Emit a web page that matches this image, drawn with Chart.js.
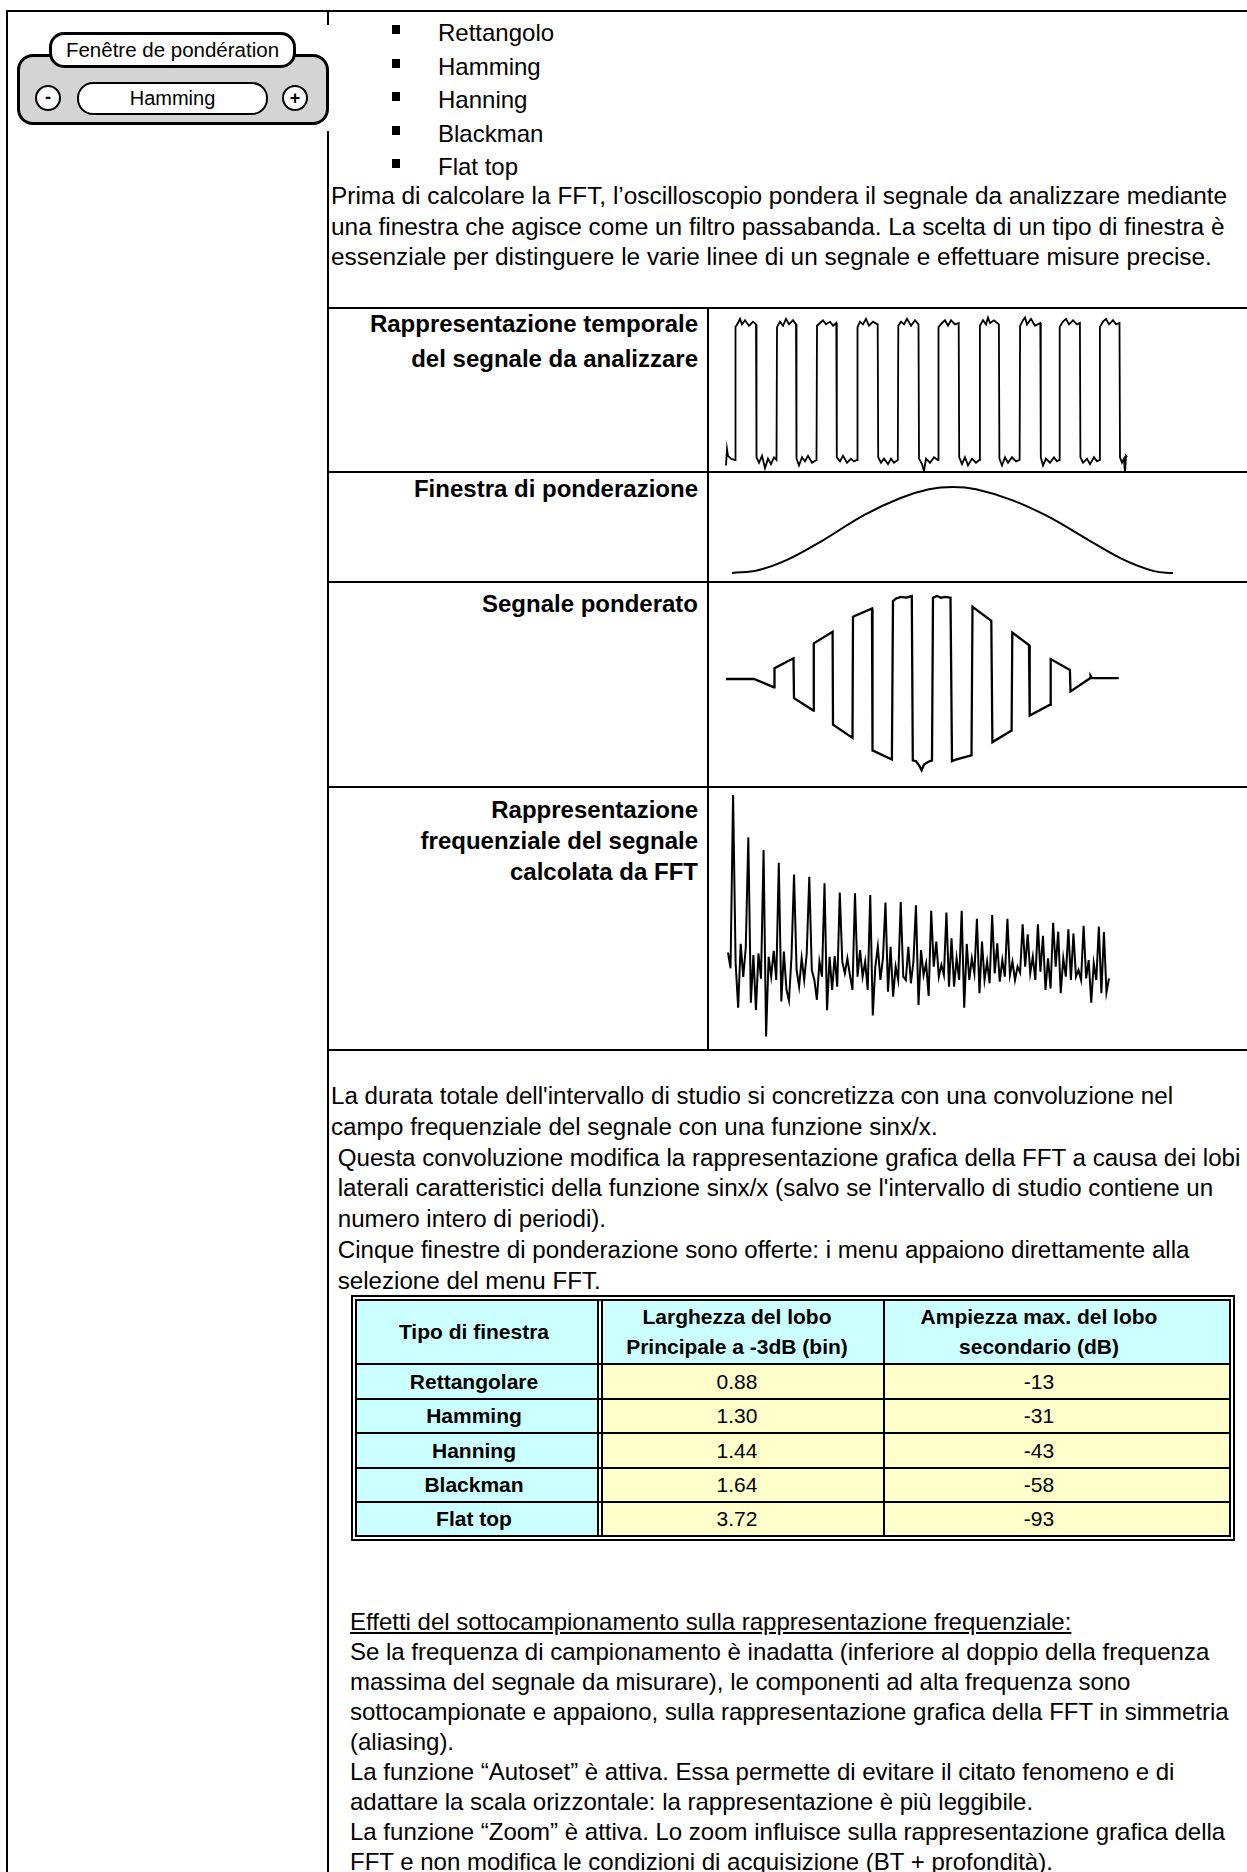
<!DOCTYPE html>
<html><head><meta charset="utf-8">
<script src="https://cdn.jsdelivr.net/npm/chart.js@4.4.1/dist/chart.umd.min.js"></script>
<style>
html,body{margin:0;padding:0;background:#fff;}
body{width:1247px;height:1872px;position:relative;overflow:hidden;font-family:"Liberation Sans",Arial,sans-serif;color:#000;}
.t{position:absolute;white-space:pre;font-size:24px;line-height:30px;}
.b{font-weight:bold;}
</style></head><body>
<script>
// ---------------- DATA ----------------
const bulletItems = ["Rettangolo","Hamming","Hanning","Blackman","Flat top"];
const introLines = [
 "Prima di calcolare la FFT, l\u2019oscilloscopio pondera il segnale da analizzare mediante",
 "una finestra che agisce come un filtro passabanda. La scelta di un tipo di finestra è",
 "essenziale per distinguere le varie linee di un segnale e effettuare misure precise."];
const rowLabels = [
 ["Rappresentazione temporale","del segnale da analizzare"],
 ["Finestra di ponderazione"],
 ["Segnale ponderato"],
 ["Rappresentazione","frequenziale del segnale","calcolata da FFT"]];
const middleLines = [
 "La durata totale dell'intervallo di studio si concretizza con una convoluzione nel",
 "campo frequenziale del segnale con una funzione sinx/x.",
 " Questa convoluzione modifica la rappresentazione grafica della FFT a causa dei lobi",
 " laterali caratteristici della funzione sinx/x (salvo se l'intervallo di studio contiene un",
 " numero intero di periodi).",
 " Cinque finestre di ponderazione sono offerte: i menu appaiono direttamente alla",
 " selezione del menu FFT."];
const bottomLines = [
 "Effetti del sottocampionamento sulla rappresentazione frequenziale:",
 "Se la frequenza di campionamento è inadatta (inferiore al doppio della frequenza",
 "massima del segnale da misurare), le componenti ad alta frequenza sono",
 "sottocampionate e appaiono, sulla rappresentazione grafica della FFT in simmetria",
 "(aliasing).",
 "La funzione \u201cAutoset\u201d è attiva. Essa permette di evitare il citato fenomeno e di",
 "adattare la scala orizzontale: la rappresentazione è più leggibile.",
 "La funzione \u201cZoom\u201d è attiva. Lo zoom influisce sulla rappresentazione grafica della",
 "FFT e non modifica le condizioni di acquisizione (BT + profondità)."];

const tableHeaders = [["Tipo di finestra"],["Larghezza del lobo","Principale a -3dB (bin)"],["Ampiezza max. del lobo","secondario (dB)"]];
const windowTypes = ["Rettangolare","Hamming","Hanning","Blackman","Flat top"];
const mainLobeWidthBins = ["0.88","1.30","1.44","1.64","3.72"];
const sideLobeMaxDb = [-13,-31,-43,-58,-93];

// time signal (square wave), normalised 0..1
const squareT = [0,1,2,5,
 9,9.5,12,14,16,19,23,27,30,
 30.5,33,36,39,42,45,48,50.5,
 51,54,57,60,63,67,70,
 70.5,73,76,79,82,86,90.5,
 91,94,97,100,104,107,110.3,
 110.8,114,117,121,125,128,131,
 131.5,134,137,140,143,147,151.7,
 152.2,155,158,162,165,168,171.8,
 172.3,175,178,181,185,189,192.5,
 193,196,198,200,204,208,212,
 212.5,216,219,222,225,229,232.7,
 233.2,236,239,242,246,250,253.4,
 253.9,257,260,262,264,268,272.9,
 273.4,276,279,282,286,290,293.6,
 294.1,297,299,301,305,309,314.3,
 314.8,317,320,324,328,331,333.2,
 333.7,337,340,343,347,351,353.9,
 354.4,357,361,364,368,371,373.4,
 373.9,377,380,383,387,390,393.5,
 394,396,398,399,400,401];
const squareV = [-0.04,0.08,0.03,0.01,
 0.0,0.97,1.0,1.03,0.99,1.02,0.98,1.01,0.99,
 0.02,-0.02,0.03,-0.06,0.01,-0.03,0.02,0.0,
 0.97,1.01,0.98,1.03,0.99,1.02,0.99,
 0.01,-0.04,0.02,-0.01,0.03,-0.02,0.0,
 0.98,1.0,1.02,0.99,1.01,0.98,1.0,
 0.02,-0.01,0.03,-0.02,0.01,-0.01,0.0,
 0.97,1.01,0.99,1.03,0.98,1.01,0.99,
 0.02,-0.02,0.01,-0.03,0.01,-0.02,0.0,
 0.98,1.01,0.99,1.03,0.98,1.02,0.99,
 0.01,-0.03,-0.08,0.01,-0.02,0.02,0.0,
 0.97,1.0,1.02,0.98,1.02,0.99,1.0,
 0.02,-0.03,0.02,-0.04,0.01,-0.02,0.0,
 0.98,1.02,0.99,1.04,1.0,1.02,0.99,
 0.01,-0.04,0.02,-0.02,0.02,-0.01,0.0,
 0.98,1.02,1.04,0.99,1.03,0.98,1.0,
 0.02,-0.04,0.01,-0.02,0.02,-0.01,0.0,
 0.97,1.01,1.03,0.99,1.02,0.99,1.0,
 0.02,-0.02,0.01,-0.03,0.02,-0.01,0.0,
 0.97,1.01,1.03,0.99,1.02,0.99,1.0,
 0.02,-0.02,0.01,-0.1,0.03,0.02];

// Hamming weighting window
const windowT = [6,32,61,97,138,174,203,227,250,286,321,363,398,428,447];
const windowW = [0.08,0.11,0.22,0.43,0.70,0.88,0.975,1.0,0.975,0.86,0.69,0.43,0.22,0.10,0.08];

// weighted signal
const weightedT = [0,28,48,48.5,67.5,68,87.4,87.8,106.6,107,126.5,127,146,146.5,165.9,167,170,175,180,185.8,186.8,190,193,195.6,198,202,206,207,211,215,219,224.5,226,230,236,245.5,246.5,265.3,266.4,285.6,286.3,303,303.7,324,324.7,343.9,344.5,364.1,364.5,366,392.7];
const weightedV = [0,0,-0.1,0.13,0.25,-0.23,-0.38,0.43,0.57,-0.55,-0.71,0.75,0.85,-0.86,-0.97,0.94,0.97,0.99,0.98,1.0,-0.98,-0.99,-1.04,-1.1,-1.03,-1.0,-0.98,0.98,1.0,0.98,0.99,0.98,-0.99,-0.97,-0.95,-0.92,0.87,0.70,-0.76,-0.62,0.56,0.41,-0.44,-0.31,0.24,0.11,-0.15,0.01,0.04,0.01,0.01];

// FFT magnitude per bin (bins 0..150)
const fftAmp = [10,1,
 100, 4,-21.5,15,-4,13,
 75.8, -18.7,8.6,-22.9,9.5,-5,
 68.6, -38,7.6,-3.8,11,-5.7,
 61.3, -18,10.5,-11,-17.5,7.6,
 54.5, 0,-9.5,6.7,-5.7,9.5,
 53.3, 0,-5.7,-17,4.8,-3.8,
 49.5, -23,7.6,-11.4,8,-9.5,
 44.2, 4.8,-1.9,6.7,-2.9,-11.4,
 43.8, -3.8,11.4,-3.8,4.8,-11.4,
 42.9, -26,1.9,13.3,-5.7,6.7,
 38.5, -12.4,13.3,-15.2,1.9,-5.7,
 38.9, -3.8,-5.7,13.3,-7.6,4.8,
 37, -20,11.4,-2.9,3.8,-14.9,
 33.9, 1.9,16.2,-3.8,2.9,-2.9,
 32.8, -9.5,18.1,-9.5,6.7,-5.7,
 33.9, -21.5,14.9,-5.7,6.7,-1.9,
 29.3, -13.3,16.2,-5.7,4.8,-7.6,
 31.4, -1.9,15.2,-6.7,5.7,-3.8,
 29.3, -2.9,4.8,-5.7,1.9,-1.5,
 26.1, 1.9,20.4,-1.9,7.6,-5.7,
 26.1, -1,19.6,-11.4,6.7,-10.5,
 27, 1.9,21.9,-13.3,6.7,-3.8,
 23.2, -5.7,20.8,-3.8,0,-5.7,
 25.3, -4.8,5.7,-18.7,3.8,-5.7,
 24.8, -13.3,21.7,-12.8,-4.8];

// ---------------- LAYOUT HELPERS ----------------
function el(tag, css, text){const e=document.createElement(tag);e.style.cssText=css;if(text!==undefined)e.textContent=text;document.body.appendChild(e);return e;}
function line(x,y,w,h){return el('div',`position:absolute;left:${x}px;top:${y}px;width:${w}px;height:${h}px;background:#000;`);}
function textLine(x,center,str,extra){const d=el('div','',str);d.className='t';d.style.left=x+'px';d.style.top=(center-15)+'px';if(extra)Object.assign(d.style,extra);return d;}

// frame
line(6,10,1241,2);
line(6,10,2,1862);
line(327,10,2,1862);
[307,471,581,786,1049].forEach(y=>line(327,y,920,2));
line(707,307,2,744);

// widget (Fenêtre de pondération)
el('div','position:absolute;left:12px;top:25px;width:321px;height:106px;background:#fff;');
el('div','position:absolute;left:17px;top:54px;width:312px;height:71px;box-sizing:border-box;border:3px solid #000;border-radius:16px;background:#d4d4d4;');
el('div','position:absolute;left:49px;top:32px;width:247px;height:36px;box-sizing:border-box;border:3px solid #000;border-radius:15px;background:#fff;font-size:20.5px;line-height:30px;text-align:center;','Fenêtre de pondération');
el('div','position:absolute;left:35px;top:85px;width:26px;height:26px;box-sizing:border-box;border:2px solid #000;border-radius:50%;background:#fff;font-size:18px;font-weight:bold;line-height:21px;text-align:center;','-');
el('div','position:absolute;left:77px;top:82px;width:191px;height:33px;box-sizing:border-box;border:2px solid #000;border-radius:16px;background:#fff;font-size:20px;line-height:29px;text-align:center;','Hamming');
el('div','position:absolute;left:282px;top:85px;width:26px;height:26px;box-sizing:border-box;border:2px solid #000;border-radius:50%;background:#fff;font-size:18px;font-weight:bold;line-height:22px;text-align:center;','+');

// bullets
bulletItems.forEach((s,i)=>{
  const c = 33 + i*33.5;
  el('div',`position:absolute;left:392px;top:${Math.round(c-8)}px;width:8px;height:9px;background:#000;`);
  textLine(438,c,s);
});
introLines.forEach((s,i)=>textLine(331,196+i*30.5,s,{fontSize:'24.4px'}));

// row labels
const labelCenters=[[324,359],[489],[604],[810,841,872]];
rowLabels.forEach((ls,r)=>ls.forEach((s,i)=>{
  const d=textLine(330,labelCenters[r][i],s);d.classList.add('b');d.style.width='368px';d.style.textAlign='right';
}));

middleLines.forEach((s,i)=>textLine(331,1096+i*30.8,s,{fontSize:'24.15px'}));
bottomLines.forEach((s,i)=>{const d=textLine(350,1622+i*30,s);if(i===0)d.style.textDecoration='underline';});

// table
(function(){
  const X0=351,Y0=1295,W=884,H=246;
  el('div',`position:absolute;left:${X0}px;top:${Y0}px;width:${W}px;height:${H}px;box-sizing:border-box;border:6px double #000;`);
  const cols=[[357,597],[603,883],[885,1229]];
  const rows=[[1301,1363],[1365,1398],[1400,1432],[1434,1467],[1469,1501],[1503,1535]];
  rows.forEach((r,ri)=>cols.forEach((c,ci)=>{
    const bg=(ri===0||ci===0)?'#ccffff':'#ffffcc';
    el('div',`position:absolute;left:${c[0]}px;top:${r[0]}px;width:${c[1]-c[0]}px;height:${r[1]-r[0]}px;background:${bg};`);
  }));
  [1363,1398,1432,1467,1501].forEach(y=>line(357,y,872,2));
  line(597,1301,2,234); line(601,1301,2,234);
  line(883,1301,2,234);
  const centers=[474,737,1039];
  function cellText(cx,cy,s,bold){
    el('div',`position:absolute;left:${cx-200}px;width:400px;top:${cy-15}px;font-size:21px;line-height:30px;text-align:center;white-space:pre;${bold?'font-weight:bold;':''}`,s);
  }
  tableHeaders.forEach((h,ci)=>{
    const n=h.length; h.forEach((s,i)=>cellText(centers[ci],1332+(i-(n-1)/2)*30,s,true));
  });
  windowTypes.forEach((s,i)=>{
    const cy=(rows[i+1][0]+rows[i+1][1])/2;
    cellText(centers[0],cy,s,true);
    cellText(centers[1],cy,mainLobeWidthBins[i],false);
    cellText(centers[2],cy,String(sideLobeMaxDb[i]),false);
  });
})();

// ---------------- CHARTS ----------------
function trace(box, xs, ys, xr, yr, ds){
  const c=document.createElement('canvas');
  c.width=box.w;c.height=box.h;
  c.style.cssText=`position:absolute;left:${box.x}px;top:${box.y}px;width:${box.w}px;height:${box.h}px;`;
  document.body.appendChild(c);
  new Chart(c,{type:'scatter',
    data:{datasets:[Object.assign({data:xs.map((x,i)=>({x:x,y:ys[i]})),showLine:true,borderColor:'#000',borderWidth:2,pointRadius:0,tension:0,fill:false,clip:false},ds||{})]},
    options:{responsive:false,animation:false,devicePixelRatio:1,events:[],layout:{padding:0},
      plugins:{legend:{display:false},tooltip:{enabled:false},title:{display:false}},
      scales:{x:{type:'linear',display:false,min:xr[0],max:xr[1]},y:{type:'linear',display:false,min:yr[0],max:yr[1]}}}});
}
const fftBin = fftAmp.map((_,i)=>i);
trace({x:709,y:309,w:538,h:162}, squareT, squareV, [-17,521], [-0.0803,1.1022], {borderWidth:1.8});
trace({x:709,y:473,w:538,h:108}, windowT, windowW, [-17,521], [-0.0053,1.1497], {tension:0.4});
trace({x:709,y:583,w:538,h:203}, weightedT, weightedV, [-17,521], [-1.289,1.157], {borderWidth:2.3});
trace({x:709,y:788,w:538,h:261}, fftBin, fftAmp, [-7.48,204.33], [-45.14,104.0], {borderWidth:2});
</script>
</body></html>
